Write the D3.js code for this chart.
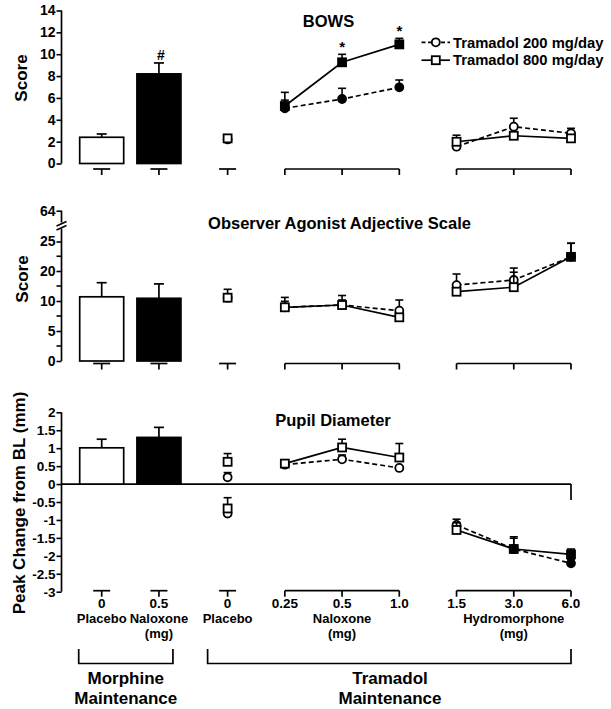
<!DOCTYPE html>
<html><head><meta charset="utf-8">
<script src="https://cdn.jsdelivr.net/npm/d3@7"></script>
<style>
body{margin:0;background:#fff}
svg text{font-family:"Liberation Sans",Arial,Helvetica,sans-serif;font-weight:bold;fill:#000}
</style></head><body>
<svg id="c" width="611" height="709"></svg>
<script>
// ---------- DATA ----------
const doseLabels = ["0","0.5","0","0.25","0.5","1.0","1.5","3.0","6.0"];
const groups = [[0],[1],[2],[3,4,5],[6,7,8]];
const groupNames = ["Placebo","Naloxone","Placebo","Naloxone","Hydromorphone"];
const groupUnits = ["","(mg)","","(mg)","(mg)"];
const maintenanceNames = [["Morphine","Maintenance"],["Tramadol","Maintenance"]];
const seriesNames = ["Tramadol 200 mg/day","Tramadol 800 mg/day"];
const panelTitles = ["BOWS","Observer Agonist Adjective Scale","Pupil Diameter"];
const panelYLabels = ["Score","Score","Peak Change from BL (mm)"];

// Morphine maintenance bars (placebo, naloxone 0.5 mg)
const bowsBars = [2.4, 8.2];
const bowsBarsErr = [0.3, 1.0];
const observerBars = [11.4, 10.9];
const observerBarsErr = [4.7, 4.8];
const pupilBars = [1.01, 1.3];
const pupilBarsErr = [0.24, 0.28];

// Tramadol maintenance: placebo, naloxone 0.25/0.5/1.0, hydromorphone 1.5/3.0/6.0
const bows200 = [2.2, 5.05, 5.9, 6.97, 1.54, 3.37, 2.76];
const bows200Err = [0.2, 0.75, 0.98, 0.67, 0.5, 0.77, 0.46];
const bows800 = [2.3, 5.26, 9.26, 10.9, 1.99, 2.54, 2.3];
const bows800Err = [0.2, 1.25, 0.73, 0.55, 0.6, 0.3, 0.3];
const bowsFilled = [false, true, true, true, false, false, false];
const bowsStars = [false, false, true, true, false, false, false];

const observer200 = [11.1, 8.95, 9.33, 8.38, 15.3, 17.0, 22.4];
const observer200Err = [0.5, 1.0, 1.0, 1.95, 3.7, 3.5, 2.3];
const observer800 = [11.1, 8.95, 9.33, 7.28, 13.1, 14.6, 22.4];
const observer800Err = [2.8, 2.25, 2.5, 0.5, 0.5, 5.0, 2.3];
const observerFilled = [false, false, false, false, false, false, true];

const pupil200 = [0.19, 0.54, 0.69, 0.45, -1.14, -1.81, -2.21];
const pupil200Err = [0.13, 0.05, 0.12, 0.05, 0.16, 0.34, 0.1];
const pupil800 = [0.62, 0.57, 1.02, 0.74, -1.28, -1.81, -1.96];
const pupil800Err = [0.23, 0.05, 0.23, 0.39, 0.2, 0.3, 0.15];
const pupilFilled = [false, false, false, false, false, true, true];
// second placebo session (hydromorphone placebo)
const pupil200Placebo2 = [-0.82];
const pupil200Placebo2Err = [0.05];
const pupil800Placebo2 = [-0.68];
const pupil800Placebo2Err = [0.3];

const bowsTicks = [0,2,4,6,8,10,12,14];
const observerTicks = [0,5,10,20,25,64];
const observerMinorTicks = [2.5,7.5,15,22.5];
const pupilTicks = [2,1.5,1,0.5,0,-0.5,-1,-1.5,-2,-2.5,-3];

// ---------- LAYOUT ----------
const svg = d3.select("#c");
const AX = 61.5;
const x = d3.scaleLinear().domain([0, 8.2]).range([101.7, 571]);
const slot = i => i + (i >= 2 ? 0.2 : 0);
const X = i => x(slot(i));
const BAR_W = 44;

const y1 = d3.scaleLinear().domain([0, 14]).range([163.5, 10.5]);
const y2 = d3.scaleLinear().domain([0,5,10,20,25,64]).range([361,331,301,271,241.5,210.7]);
const y3 = d3.scaleLinear().domain([-3, 2]).range([591.7, 412.3]);

function yAxis(y, ticks, fmt, minor, fs) {
  const g = svg.append("g").attr("transform", `translate(${AX},0)`)
    .call(d3.axisLeft(y).tickValues(ticks).tickFormat(fmt).tickSize(5).tickSizeOuter(0).tickPadding(1));
  g.select(".domain").remove();
  g.attr("font-family", null).attr("font-size", null);
  g.selectAll(".tick line").attr("stroke-width", 1.6);
  g.selectAll(".tick text").style("font-size", fs + "px");
  if (minor) {
    g.selectAll(".minor").data(minor).join("line").attr("class","minor")
      .attr("x1", -5).attr("x2", 0).attr("y1", d => y(d)).attr("y2", d => y(d))
      .attr("stroke", "#000").attr("stroke-width", 1.6);
  }
  return g;
}
function vline(x0, ya, yb) {
  svg.append("line").attr("x1", x0).attr("x2", x0).attr("y1", ya).attr("y2", yb)
    .attr("stroke", "#000").attr("stroke-width", 1.7);
}
function groupAxes(yPos) {
  const g = svg.append("g");
  groups.forEach(gr => {
    const a = gr.length === 1 ? X(gr[0]) - 8.5 : X(gr[0]);
    const b = gr.length === 1 ? X(gr[0]) + 8.5 : X(gr[gr.length - 1]);
    g.append("line").attr("x1", a).attr("x2", b).attr("y1", yPos).attr("y2", yPos)
      .attr("stroke", "#000").attr("stroke-width", 1.7);
    gr.forEach(i => g.append("line").attr("x1", X(i)).attr("x2", X(i))
      .attr("y1", yPos).attr("y2", yPos + 6).attr("stroke", "#000").attr("stroke-width", 1.7));
  });
}
function bars(y, vals, errs) {
  const g = svg.append("g");
  vals.forEach((v, i) => {
    const cx = X(i);
    g.append("line").attr("x1", cx).attr("x2", cx).attr("y1", y(v)).attr("y2", y(v + errs[i]))
      .attr("stroke", "#000").attr("stroke-width", 1.7);
    g.append("line").attr("x1", cx - 5).attr("x2", cx + 5).attr("y1", y(v + errs[i])).attr("y2", y(v + errs[i]))
      .attr("stroke", "#000").attr("stroke-width", 1.7);
    g.append("rect").attr("x", cx - BAR_W / 2).attr("width", BAR_W)
      .attr("y", y(v)).attr("height", y(0) - y(v))
      .attr("fill", i === 0 ? "#fff" : "#000").attr("stroke", "#000").attr("stroke-width", 1.7);
  });
}
function marker(g, kind, cx, cy, filled) {
  if (kind === "circle") {
    g.append("circle").attr("cx", cx).attr("cy", cy).attr("r", 4)
      .attr("fill", filled ? "#000" : "#fff").attr("stroke", "#000").attr("stroke-width", 1.8);
  } else {
    g.append("rect").attr("x", cx - 4).attr("y", cy - 4).attr("width", 8).attr("height", 8)
      .attr("fill", filled ? "#000" : "#fff").attr("stroke", "#000").attr("stroke-width", 1.8);
  }
}
function errbar(g, cx, y, v, e) {
  g.append("line").attr("x1", cx).attr("x2", cx).attr("y1", y(v)).attr("y2", y(v + e))
    .attr("stroke", "#000").attr("stroke-width", 1.6);
  g.append("line").attr("x1", cx - 4).attr("x2", cx + 4).attr("y1", y(v + e)).attr("y2", y(v + e))
    .attr("stroke", "#000").attr("stroke-width", 1.6);
}
function series(y, vals, errs, filled, kind, dashed, extraPlacebo, extraErr) {
  const g = svg.append("g");
  const line = d3.line().x(d => X(d.i)).y(d => y(d.v));
  const pts = vals.map((v, k) => ({ i: k + 2, v, e: errs[k], f: filled[k] }));
  [pts.slice(1, 4), pts.slice(4, 7)].forEach(seg => {
    g.append("path").attr("d", line(seg)).attr("fill", "none").attr("stroke", "#000")
      .attr("stroke-width", 1.7).attr("stroke-dasharray", dashed ? "5,3" : null);
  });
  pts.forEach(p => errbar(g, X(p.i), y, p.v, p.e));
  if (extraPlacebo) extraPlacebo.forEach((v, k) => errbar(g, X(2), y, v, extraErr[k]));
  pts.forEach(p => marker(g, kind, X(p.i), y(p.v), p.f));
  if (extraPlacebo) extraPlacebo.forEach(v => marker(g, kind, X(2), y(v), false));
}

// ---------- PANEL 1: BOWS ----------
yAxis(y1, bowsTicks, d => String(d), null, 14);
vline(AX, y1(0), y1(14));
groupAxes(169);
bars(y1, bowsBars, bowsBarsErr);
series(y1, bows200, bows200Err, bowsFilled, "circle", true);
series(y1, bows800, bows800Err, bowsFilled, "square", false);
bowsStars.forEach((s, k) => {
  if (!s) return;
  const top = Math.max(bows800[k] + bows800Err[k], bows200[k] + bows200Err[k]);
  svg.append("text").attr("x", X(k + 2)).attr("y", y1(top) - 2).attr("text-anchor", "middle")
    .style("font-size", "15px").text("*");
});
svg.append("text").attr("x", X(1) + 2).attr("y", y1(bowsBars[1] + bowsBarsErr[1]) - 3)
  .attr("text-anchor", "middle").style("font-size", "14px").text("#");

// ---------- PANEL 2: Observer ----------
yAxis(y2, observerTicks, d => String(d), observerMinorTicks, 14);
vline(AX, y2(0), 228.5);
vline(AX, 222.5, y2(64));
svg.append("line").attr("x1", AX - 5).attr("x2", AX + 5).attr("y1", 226).attr("y2", 221.5)
  .attr("stroke", "#000").attr("stroke-width", 1.5);
svg.append("line").attr("x1", AX - 5).attr("x2", AX + 5).attr("y1", 230).attr("y2", 225.5)
  .attr("stroke", "#000").attr("stroke-width", 1.5);
groupAxes(363.5);
bars(y2, observerBars, observerBarsErr);
series(y2, observer200, observer200Err, observerFilled, "circle", true);
series(y2, observer800, observer800Err, observerFilled, "square", false);

// ---------- PANEL 3: Pupil ----------
yAxis(y3, pupilTicks, d => String(d), null, 13.5);
vline(AX, y3(-3), y3(2));
svg.append("line").attr("x1", AX).attr("x2", X(8)).attr("y1", y3(0)).attr("y2", y3(0))
  .attr("stroke", "#000").attr("stroke-width", 1.7);
vline(X(8), y3(0), y3(0) + 16);
groupAxes(590.7);
bars(y3, pupilBars, pupilBarsErr);
series(y3, pupil200, pupil200Err, pupilFilled, "circle", true, pupil200Placebo2, pupil200Placebo2Err);
series(y3, pupil800, pupil800Err, pupilFilled, "square", false, pupil800Placebo2, pupil800Placebo2Err);

// ---------- TEXT ----------
const titlePos = [[328.5, 26.5], [339.5, 228.5], [333, 426]];
panelTitles.forEach((t, k) => svg.append("text").attr("x", titlePos[k][0]).attr("y", titlePos[k][1])
  .attr("text-anchor", "middle").style("font-size", "16.5px").text(t));
const ylabPos = [[26.5, 78], [27.5, 279], [24.5, 503]];
panelYLabels.forEach((t, k) => svg.append("text")
  .attr("transform", `translate(${ylabPos[k][0]},${ylabPos[k][1]}) rotate(-90)`)
  .attr("text-anchor", "middle").style("font-size", "17px").text(t));

// legend
[0, 1].forEach(k => {
  const ly = 42.3 + k * 17.9;
  const g = svg.append("g");
  g.append("line").attr("x1", 421.5).attr("x2", 450).attr("y1", ly).attr("y2", ly)
    .attr("stroke", "#000").attr("stroke-width", 1.7).attr("stroke-dasharray", k === 0 ? "4,2.5" : null);
  marker(g, k === 0 ? "circle" : "square", 435.8, ly, false);
  g.append("text").attr("x", 453).attr("y", ly + 5.2).style("font-size", "14.8px").text(seriesNames[k]);
});

// bottom labels
doseLabels.forEach((d, i) => svg.append("text").attr("x", X(i)).attr("y", 607.5)
  .attr("text-anchor", "middle").style("font-size", "13.5px").text(d));
groups.forEach((gr, k) => {
  const cx = (X(gr[0]) + X(gr[gr.length - 1])) / 2;
  svg.append("text").attr("x", cx).attr("y", 622.5).attr("text-anchor", "middle")
    .style("font-size", "13px").text(groupNames[k]);
  if (groupUnits[k]) svg.append("text").attr("x", cx).attr("y", 637.5).attr("text-anchor", "middle")
    .style("font-size", "13px").text(groupUnits[k]);
});
// maintenance brackets
const brackets = [[X(0) - 23, X(1) + 14], [X(2) - 20, X(8)]];
brackets.forEach((b, k) => {
  svg.append("path").attr("d", `M${b[0]},649V663.5H${b[1]}V649`).attr("fill", "none")
    .attr("stroke", "#000").attr("stroke-width", 1.7);
  const cx = k === 0 ? (b[0] + b[1]) / 2 : 390;
  maintenanceNames[k].forEach((t, j) => svg.append("text").attr("x", cx).attr("y", 683.5 + j * 20)
    .attr("text-anchor", "middle").style("font-size", "17px").text(t));
});
</script>
</body></html>
